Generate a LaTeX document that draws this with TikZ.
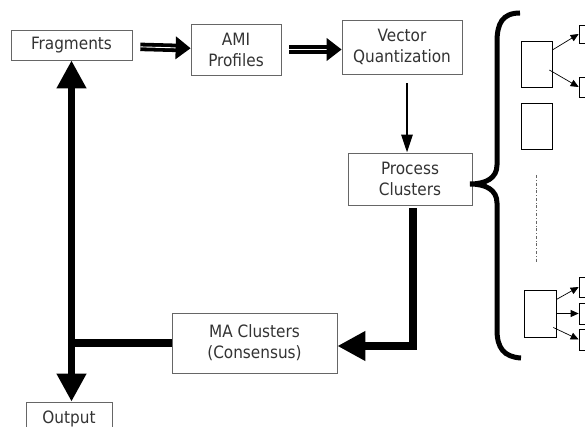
\documentclass[tikz,border=0pt]{standalone}
\usepackage{fontspec}
\setmainfont{DejaVu Sans Condensed}
\usepackage{tikz}
\usetikzlibrary{arrows.meta,positioning,calc}
\usepackage{xcolor}

\begin{document}
\begin{tikzpicture}[x=1pt, y=-1pt, every node/.style={font=\fontsize{17}{21}\selectfont, text=black!80}]
\tikzset{box/.style={draw=black!60, line width=0.7pt, align=center, inner sep=0pt}}
\tikzset{small/.style={draw=black, line width=0.7pt, inner sep=0pt}}
\tikzset{hollow/.style={-{Triangle[width=22pt,length=15pt]}, line width=3.8pt, double=white, double distance=0.9pt, shorten <=8pt}}
\tikzset{fat/.style={-{Triangle[width=28pt,length=28pt]}, line width=7.5pt}}
\tikzset{thin/.style={-{Triangle[width=7pt,length=8pt]}, line width=0.7pt}}
\useasboundingbox (0,0) rectangle (585,427);
% main flow
\node[box, minimum width=121pt, minimum height=30pt] (frag) at (71.5,45) {Fragments};
\node[box, minimum width=90pt, minimum height=51pt] (ami) at (236,49.5) {AMI\\Profiles};
\node[box, minimum width=120pt, minimum height=54pt] (vq) at (402,47) {Vector\\Quantization};
\node[box, minimum width=124pt, minimum height=52pt] (proc) at (410,179) {Process\\Clusters};
\node[box, minimum width=165pt, minimum height=60pt] (ma) at (254.5,343) {MA Clusters\\(Consensus)};
\node[box, minimum width=86pt, minimum height=34pt] (out) at (69,419) {Output};
\draw[hollow] (frag) -- (ami);
\draw[hollow] (ami) -- (vq.west |- ami);
\draw[-{Triangle[width=11pt,length=18pt]}, line width=2.8pt, shorten <=9pt] ([xshift=5pt]vq.south) -- ([xshift=5pt]vq.south |- proc.north);
\draw[fat, -{Triangle[width=28pt,length=28pt]}] ([xshift=3pt,yshift=-3pt]proc.south) |- ([yshift=-3pt]ma.east);
\draw[fat, {Triangle[width=28pt,length=28pt]}-{Triangle[width=28pt,length=28pt]}] (frag.south |- out.north) -- (frag.south);
\draw[line width=7.5pt] (ma.west) -- (ma.west -| frag.south);
% brace
\draw[line width=5pt] (520,13) .. controls (502,13) and (497,24) .. (497,42) -- (497,165)
  .. controls (497,178) and (486,184) .. (470,184) .. controls (486,184) and (497,190) .. (497,203)
  -- (497,330) .. controls (497,348) and (504,357) .. (521,358);
% clusters
\node[small, minimum width=31pt, minimum height=46pt] (c1) at (536.5,64) {};
\node[small, minimum width=31pt, minimum height=46pt] (c2) at (536.5,126) {};
\node[small, minimum width=32pt, minimum height=47pt] (c3) at (540,313.5) {};
\node[small, minimum width=21pt, minimum height=18pt] (t1) at (589.5,34) {};
\node[small, minimum width=21pt, minimum height=20pt] (t2) at (589.5,87) {};
\node[small, minimum width=21pt, minimum height=20pt] (t3) at (589.5,287) {};
\node[small, minimum width=21pt, minimum height=21pt] (t4) at (589.5,313.5) {};
\node[small, minimum width=21pt, minimum height=21pt] (t5) at (589.5,339.5) {};
\draw[thin] ([yshift=14pt]c1.east) -- (t1.west);
\draw[thin] ([xshift=-3pt,yshift=-6pt]c1.east) -- (t2.west);
\draw[thin] ([yshift=14pt]c3.east) -- (t3.west);
\draw[thin] (c3.east) -- (t4.west);
\draw[thin] ([xshift=-3pt,yshift=-14pt]c3.east) -- (t5.west);
\draw[black!60, line width=0.6pt, dash dot] (536,175) -- (536,262);
\end{tikzpicture}
\end{document}
